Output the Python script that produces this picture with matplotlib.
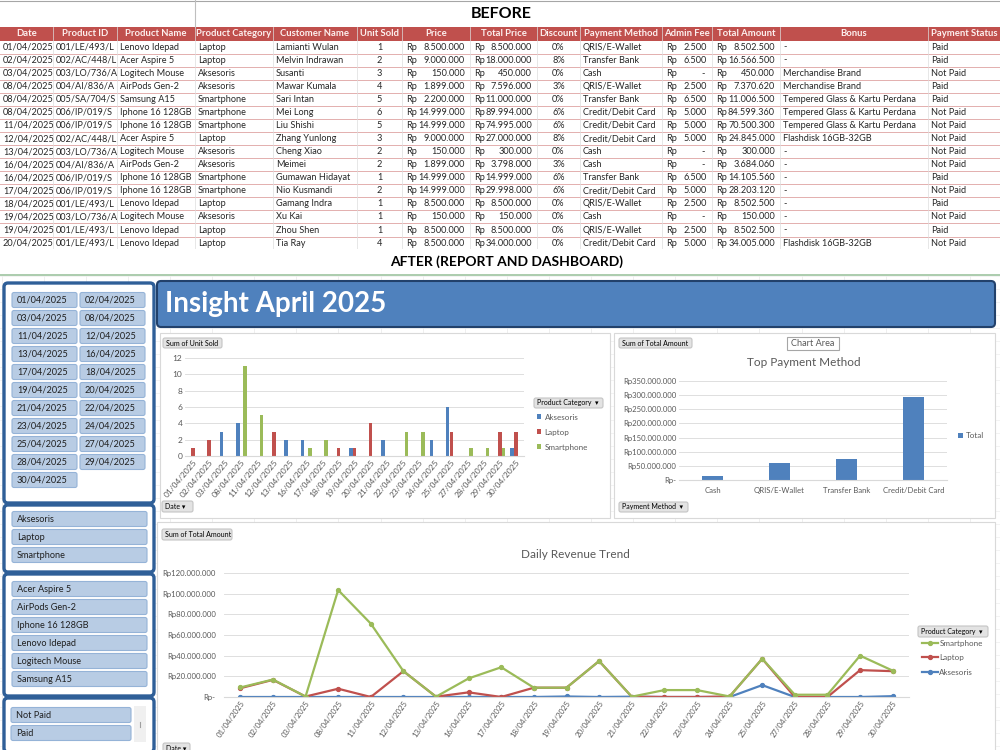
import matplotlib
matplotlib.use('Agg')
import matplotlib.pyplot as plt
from matplotlib.patches import Rectangle, FancyBboxPatch
from matplotlib.ticker import FuncFormatter
import numpy as np

plt.rcParams['font.family'] = ['Lato', 'DejaVu Sans']

# ---------------- DATA ----------------
tbl_headers = ['Date', 'Product ID', 'Product Name', 'Product Category', 'Customer Name', 'Unit Sold',
               'Price', 'Total Price', 'Discount', 'Payment Method', 'Admin Fee', 'Total Amount',
               'Bonus', 'Payment Status']
tbl_dates = ['01/04/2025', '02/04/2025', '03/04/2025', '08/04/2025', '08/04/2025', '08/04/2025',
             '11/04/2025', '12/04/2025', '13/04/2025', '16/04/2025', '16/04/2025', '17/04/2025',
             '18/04/2025', '19/04/2025', '19/04/2025', '20/04/2025']
tbl_product_id = ['001/LE/493/L', '002/AC/448/L', '003/LO/736/A', '004/AI/836/A', '005/SA/704/S',
                  '006/IP/019/S', '006/IP/019/S', '002/AC/448/L', '003/LO/736/A', '004/AI/836/A',
                  '006/IP/019/S', '006/IP/019/S', '001/LE/493/L', '003/LO/736/A', '001/LE/493/L',
                  '001/LE/493/L']
tbl_product_name = ['Lenovo Idepad', 'Acer Aspire 5', 'Logitech Mouse', 'AirPods Gen-2', 'Samsung A15',
                    'Iphone 16 128GB', 'Iphone 16 128GB', 'Acer Aspire 5', 'Logitech Mouse',
                    'AirPods Gen-2', 'Iphone 16 128GB', 'Iphone 16 128GB', 'Lenovo Idepad',
                    'Logitech Mouse', 'Lenovo Idepad', 'Lenovo Idepad']
tbl_category = ['Laptop', 'Laptop', 'Aksesoris', 'Aksesoris', 'Smartphone', 'Smartphone', 'Smartphone',
                'Laptop', 'Aksesoris', 'Aksesoris', 'Smartphone', 'Smartphone', 'Laptop', 'Aksesoris',
                'Laptop', 'Laptop']
tbl_customer = ['Lamianti Wulan', 'Melvin Indrawan', 'Susanti', 'Mawar Kumala', 'Sari Intan', 'Mei Long',
                'Liu Shishi', 'Zhang Yunlong', 'Cheng Xiao', 'Meimei', 'Gumawan Hidayat', 'Nio Kusmandi',
                'Gamang Indra', 'Xu Kai', 'Zhou Shen', 'Tia Ray']
tbl_units = [1, 2, 3, 4, 5, 6, 5, 3, 2, 2, 1, 2, 1, 1, 1, 4]
tbl_price = [8500000, 9000000, 150000, 1899000, 2200000, 14999000, 14999000, 9000000, 150000, 1899000,
             14999000, 14999000, 8500000, 150000, 8500000, 8500000]
tbl_total_price = [8500000, 18000000, 450000, 7596000, 11000000, 89994000, 74995000, 27000000, 300000,
                   3798000, 14999000, 29998000, 8500000, 150000, 8500000, 34000000]
tbl_discount = [0, 8, 0, 3, 0, 6, 6, 8, 0, 3, 6, 6, 0, 0, 0, 0]
tbl_method = ['QRIS/E-Wallet', 'Transfer Bank', 'Cash', 'QRIS/E-Wallet', 'Transfer Bank',
              'Credit/Debit Card', 'Credit/Debit Card', 'Credit/Debit Card', 'Cash', 'Cash',
              'Transfer Bank', 'Credit/Debit Card', 'QRIS/E-Wallet', 'Cash', 'QRIS/E-Wallet',
              'Credit/Debit Card']
tbl_admin_fee = [2500, 6500, 0, 2500, 6500, 5000, 5000, 5000, 0, 0, 6500, 5000, 2500, 0, 2500, 5000]
tbl_total_amount = [8502500, 16566500, 450000, 7370620, 11006500, 84599360, 70500300, 24845000, 300000,
                    3684060, 14105560, 28203120, 8502500, 150000, 8502500, 34005000]
tbl_bonus = ['-', '-', 'Merchandise Brand', 'Merchandise Brand', 'Tempered Glass & Kartu Perdana',
             'Tempered Glass & Kartu Perdana', 'Tempered Glass & Kartu Perdana', 'Flashdisk 16GB-32GB',
             '-', '-', '-', '-', '-', '-', '-', 'Flashdisk 16GB-32GB']
tbl_status = ['Paid', 'Paid', 'Not Paid', 'Paid', 'Paid', 'Not Paid', 'Not Paid', 'Not Paid', 'Not Paid',
              'Not Paid', 'Paid', 'Not Paid', 'Paid', 'Not Paid', 'Paid', 'Not Paid']

chart_dates = ['01/04/2025', '02/04/2025', '03/04/2025', '08/04/2025', '11/04/2025', '12/04/2025',
               '13/04/2025', '16/04/2025', '17/04/2025', '18/04/2025', '19/04/2025', '20/04/2025',
               '21/04/2025', '22/04/2025', '23/04/2025', '24/04/2025', '25/04/2025', '27/04/2025',
               '28/04/2025', '29/04/2025', '30/04/2025']
units_aksesoris = [0, 0, 3, 4, 0, 0, 2, 2, 0, 0, 1, 0, 2, 0, 0, 2, 6, 0, 0, 0, 1]
units_laptop = [1, 2, 0, 0, 0, 3, 0, 0, 0, 1, 1, 4, 0, 0, 0, 0, 3, 0, 0, 3, 3]
units_smartphone = [0, 0, 0, 11, 5, 0, 0, 1, 2, 0, 0, 0, 0, 3, 3, 0, 0, 1, 1, 1, 0]

pay_methods = ['Cash', 'QRIS/E-Wallet', 'Transfer Bank', 'Credit/Debit Card']
pay_totals_mn = [14, 61, 73, 292]          # million Rp

rev_smartphone_mn = [9.2, 16.9, 0.45, 103.5, 71, 25, 0.3, 18, 28.8, 9, 9, 34.8, 0.3, 6.7, 6.7, 0.5,
                     37, 2.2, 2.2, 40, 25.5]
rev_laptop_mn = [8.5, 16.6, 0.45, 8, 0, 25, 0.3, 4.5, 0, 9, 9, 34.8, 0.3, 0, 0, 0.5, 37, 0, 0, 26, 25]
rev_aksesoris_mn = [0, 0, 0, 0, 0, 0, 0, 0, 0, 0, 0.5, 0, 0.3, 0, 0, 0, 11.5, 0, 0, 0, 0.8]

slicer_categories = ['Aksesoris', 'Laptop', 'Smartphone']
slicer_products = ['Acer Aspire 5', 'AirPods Gen-2', 'Iphone 16 128GB', 'Lenovo Idepad',
                   'Logitech Mouse', 'Samsung A15']
slicer_status = ['Not Paid', 'Paid']

C_BLUE, C_RED, C_GREEN = '#4F81BD', '#C0504D', '#9BBB59'
TXT = '#262626'
AX_TXT = '#595959'

# ---------------- FIGURE ----------------
W, H = 1000, 750
fig = plt.figure(figsize=(10, 7.5), dpi=100)
bg = fig.add_axes([0, 0, 1, 1])
bg.set_xlim(0, W)
bg.set_ylim(H, 0)
bg.axis('off')


def axes_px(x0, y0, x1, y1):
    ax = fig.add_axes([x0 / W, 1 - y1 / H, (x1 - x0) / W, (y1 - y0) / H])
    ax.patch.set_alpha(0)
    return ax


def rp(v):
    return f'{int(round(v)):,}'.replace(',', '.')


# ---------- BEFORE table ----------
bg.plot([0, W], [1, 1], color='#A6A6A6', lw=0.8)
bg.plot([195, 195], [0, 27], color='#BFBFBF', lw=0.8)
bg.text(501, 14, 'BEFORE', ha='center', va='center', fontsize=11.5, fontweight='bold', color='black')

col_edges = [0, 53, 117, 195, 273, 357, 402, 470, 537, 580, 662, 712, 780, 928, 1000]
hdr_y0, hdr_y1 = 27, 40.5
pitch = 13.07
bg.add_patch(Rectangle((0, hdr_y0), W, hdr_y1 - hdr_y0, fc='#C0504D', ec='none'))
for i, h in enumerate(tbl_headers):
    bg.text((col_edges[i] + col_edges[i + 1]) / 2, (hdr_y0 + hdr_y1) / 2, h, ha='center', va='center',
            fontsize=6.8, fontweight='bold', color='#FDF0EF')
n = len(tbl_dates)
for r in range(n):
    yc = hdr_y1 + pitch * (r + 0.5)
    yb = hdr_y1 + pitch * (r + 1)
    bg.plot([0, W], [yb, yb], color='#E3AFAE', lw=0.7, zorder=1)
    left_vals = [tbl_dates[r], tbl_product_id[r], tbl_product_name[r], tbl_category[r], tbl_customer[r]]
    for c, v in enumerate(left_vals):
        bg.text(col_edges[c] + 3, yc, v, ha='left', va='center', fontsize=6.6, color=TXT)
    bg.text((col_edges[5] + col_edges[6]) / 2, yc, str(tbl_units[r]), ha='center', va='center',
            fontsize=6.6, color=TXT)
    for c, v in [(6, tbl_price[r]), (7, tbl_total_price[r]), (10, tbl_admin_fee[r]), (11, tbl_total_amount[r])]:
        bg.text(col_edges[c] + 4, yc, 'Rp', ha='left', va='center', fontsize=6.6, color=TXT)
        s = rp(v) if v else '-'
        bg.text(col_edges[c + 1] - (5 if v else 7), yc, s, ha='right', va='center', fontsize=6.6, color=TXT)
    bg.text((col_edges[8] + col_edges[9]) / 2, yc, f'{tbl_discount[r]}%', ha='center', va='center',
            fontsize=6.6, color=TXT)
    bg.text(col_edges[9] + 3, yc, tbl_method[r], ha='left', va='center', fontsize=6.6, color=TXT)
    bg.text(col_edges[12] + 3, yc, tbl_bonus[r], ha='left', va='center', fontsize=6.6, color=TXT)
    bg.text(col_edges[13] + 3, yc, tbl_status[r], ha='left', va='center', fontsize=6.6, color=TXT)
for xe in col_edges[1:-1]:
    bg.plot([xe, xe], [hdr_y0, 249], color='#DDDDDD', lw=0.5, zorder=1)
bg.add_patch(Rectangle((0, 248.5), W, 8, fc='white', ec='none', zorder=6))

# ---------- AFTER title ----------
bg.text(507, 262, 'AFTER (REPORT AND DASHBOARD)', ha='center', va='center', fontsize=10,
        fontweight='bold', color='black', zorder=7)
bg.plot([0, W], [275, 275], color='#9DC3A0', lw=1.2, zorder=7)

# faint sheet gridlines
for gx in np.arange(1.6, W, 42.1):
    bg.plot([gx, gx], [276, H], color='#E9E9E9', lw=0.5, zorder=0)
for gy in np.arange(hdr_y1 + pitch * 18, H, pitch):
    bg.plot([0, W], [gy, gy], color='#EFEFEF', lw=0.5, zorder=0)

# ---------- banner ----------
bg.add_patch(FancyBboxPatch((157, 281), 838, 46, boxstyle='round,pad=0,rounding_size=4',
                            fc='#4F81BD', ec='#22416B', lw=1.5, zorder=2))
bg.text(165, 304, 'Insight April 2025', ha='left', va='center', fontsize=20, fontweight='bold',
        color='white', zorder=3)


# ---------- slicers ----------
def button(x0, y0, x1, y1, label, fc='#B8CCE4', ec='#95B3D7', fs=6.6, color='#1F1F1F', pad=5, z=3):
    bg.add_patch(FancyBboxPatch((x0, y0), x1 - x0, y1 - y0, boxstyle='round,pad=0,rounding_size=2',
                                fc=fc, ec=ec, lw=0.8, zorder=z))
    bg.text(x0 + pad, (y0 + y1) / 2, label, ha='left', va='center', fontsize=fs, color=color, zorder=z + 1)


for (y0, y1) in [(283, 503), (505, 572), (574, 696), (698, 752)]:
    bg.add_patch(FancyBboxPatch((4, y0), 150, y1 - y0, boxstyle='round,pad=0,rounding_size=4',
                                fc='white', ec='#2F5F98', lw=2.4, zorder=2))
for i, d in enumerate(chart_dates):
    r, c = divmod(i, 2)
    xa = 12 if c == 0 else 80
    yc = 300 + 18 * r
    button(xa, yc - 7.5, xa + 65, yc + 7.5, d)
for i, s in enumerate(slicer_categories):
    yc = 519 + 18 * i
    button(12, yc - 7.5, 147, yc + 7.5, s)
for i, s in enumerate(slicer_products):
    yc = 589 + 18 * i
    button(12, yc - 7.5, 147, yc + 7.5, s)
for i, s in enumerate(slicer_status):
    yc = 715 + 18 * i
    button(11, yc - 7.5, 131, yc + 7.5, s)
bg.add_patch(Rectangle((134, 706), 12, 36, fc='#F0F0F0', ec='none', zorder=3))
bg.plot([140, 140], [722, 727], color='#A0A0A0', lw=0.8, zorder=4)

# ---------- chart panels ----------
for (x0, y0, x1, y1) in [(160, 333, 610, 518), (614, 333, 995, 518), (157, 522, 995, 752)]:
    bg.add_patch(Rectangle((x0, y0), x1 - x0, y1 - y0, fc='white', ec='#D9D9D9', lw=0.8, zorder=2))


def field_btn(x0, y0, x1, y1, label):
    button(x0, y0, x1, y1, label, fc='#E3E3E3', ec='#C4C4C4', fs=5, color='black', pad=3)


field_btn(163, 338, 222, 348, 'Sum of Unit Sold')
field_btn(162, 501, 193, 512, 'Date ▾')
field_btn(534, 398, 603, 408, 'Product Category  ▾')
field_btn(619, 338, 692, 348, 'Sum of Total Amount')
field_btn(619, 502, 688, 512, 'Payment Method  ▾')
field_btn(162, 529, 232, 540, 'Sum of Total Amount')
field_btn(918, 626, 988, 637, 'Product Category  ▾')
field_btn(163, 743, 190, 754, 'Date ▾')
bg.add_patch(Rectangle((787, 337), 52, 13, fc='white', ec='#A6A6A6', lw=0.8, zorder=3))
bg.text(813, 343.5, 'Chart Area', ha='center', va='center', fontsize=6.6, color=AX_TXT, zorder=4)
bg.text(804, 363, 'Top Payment Method', ha='center', va='center', fontsize=8.5, color=AX_TXT, zorder=4)
bg.text(575, 555, 'Daily Revenue Trend', ha='center', va='center', fontsize=8.5, color=AX_TXT, zorder=4)


def style_ax(ax, fs_y):
    for s in ['top', 'right', 'left']:
        ax.spines[s].set_visible(False)
    ax.spines['bottom'].set_color('#D9D9D9')
    ax.grid(axis='y', color='#D9D9D9', lw=0.6)
    ax.set_axisbelow(True)
    ax.tick_params(length=0, labelsize=fs_y, colors=AX_TXT, pad=2)


# ---------- Unit sold bar chart ----------
x = np.arange(len(chart_dates))
axb = axes_px(185, 358, 524, 456)
b1 = axb.bar(x - 0.23, units_aksesoris, 0.22, color=C_BLUE, label='Aksesoris')
b2 = axb.bar(x, units_laptop, 0.22, color=C_RED, label='Laptop')
b3 = axb.bar(x + 0.23, units_smartphone, 0.22, color=C_GREEN, label='Smartphone')
axb.set_xlim(-0.5, len(chart_dates) - 0.5)
axb.set_ylim(0, 12)
axb.set_yticks(range(0, 13, 2))
axb.set_xticks(x)
axb.set_xticklabels(chart_dates, rotation=50, ha='right', rotation_mode='anchor', fontsize=5.8)
style_ax(axb, 6)
axb.legend(handles=[b1, b2, b3], loc='upper left', bbox_to_anchor=(535 / W, 1 - 412 / H),
           bbox_transform=fig.transFigure, frameon=False, fontsize=5.8, handlelength=0.6,
           handleheight=0.6, handletextpad=0.4, labelspacing=1.0, borderaxespad=0, borderpad=0.2,
           labelcolor=AX_TXT)

# ---------- Payment method chart ----------
xp = np.arange(len(pay_methods))
axp = axes_px(679, 381, 947, 480)
bp = axp.bar(xp, pay_totals_mn, 0.31, color=C_BLUE, label='Total')
axp.set_xlim(-0.5, len(pay_methods) - 0.5)
axp.set_ylim(0, 350)
axp.set_yticks(range(0, 351, 50))
axp.yaxis.set_major_formatter(FuncFormatter(lambda v, p: 'Rp-' if v == 0 else 'Rp' + rp(v * 1e6)))
axp.set_xticks(xp)
axp.set_xticklabels(pay_methods, fontsize=5.8)
style_ax(axp, 5.6)
axp.tick_params(axis='x', pad=5)
axp.legend(handles=[bp], loc='center left', bbox_to_anchor=(958 / W, 1 - 436 / H),
           bbox_transform=fig.transFigure, frameon=False, fontsize=5.8, handlelength=0.6,
           handleheight=0.6, handletextpad=0.4, borderaxespad=0, borderpad=0, labelcolor=AX_TXT)

# ---------- Daily revenue line chart ----------
axl = axes_px(224, 573, 909, 697)
la, = axl.plot(x, rev_aksesoris_mn, color=C_BLUE, lw=1.6, marker='o', ms=2.8, label='Aksesoris')
ll, = axl.plot(x, rev_laptop_mn, color=C_RED, lw=1.6, marker='o', ms=2.8, label='Laptop')
ls, = axl.plot(x, rev_smartphone_mn, color=C_GREEN, lw=1.6, marker='o', ms=2.8, label='Smartphone')
axl.set_xlim(-0.5, len(chart_dates) - 0.5)
axl.set_ylim(0, 120)
axl.set_yticks(range(0, 121, 20))
axl.yaxis.set_major_formatter(FuncFormatter(lambda v, p: 'Rp-' if v == 0 else 'Rp' + rp(v * 1e6)))
axl.set_xticks(x)
axl.set_xticklabels(chart_dates, rotation=55, ha='right', rotation_mode='anchor', fontsize=5.8)
style_ax(axl, 5.6)
axl.tick_params(axis='y', pad=6)
axl.legend(handles=[ls, ll, la], loc='upper left', bbox_to_anchor=(920 / W, 1 - 638 / H),
           bbox_transform=fig.transFigure, frameon=False, fontsize=5.8, handlelength=2.0,
           handletextpad=0.2, labelspacing=0.95, borderaxespad=0, borderpad=0.2, labelcolor=AX_TXT)

fig.savefig('out.png', dpi=100)
